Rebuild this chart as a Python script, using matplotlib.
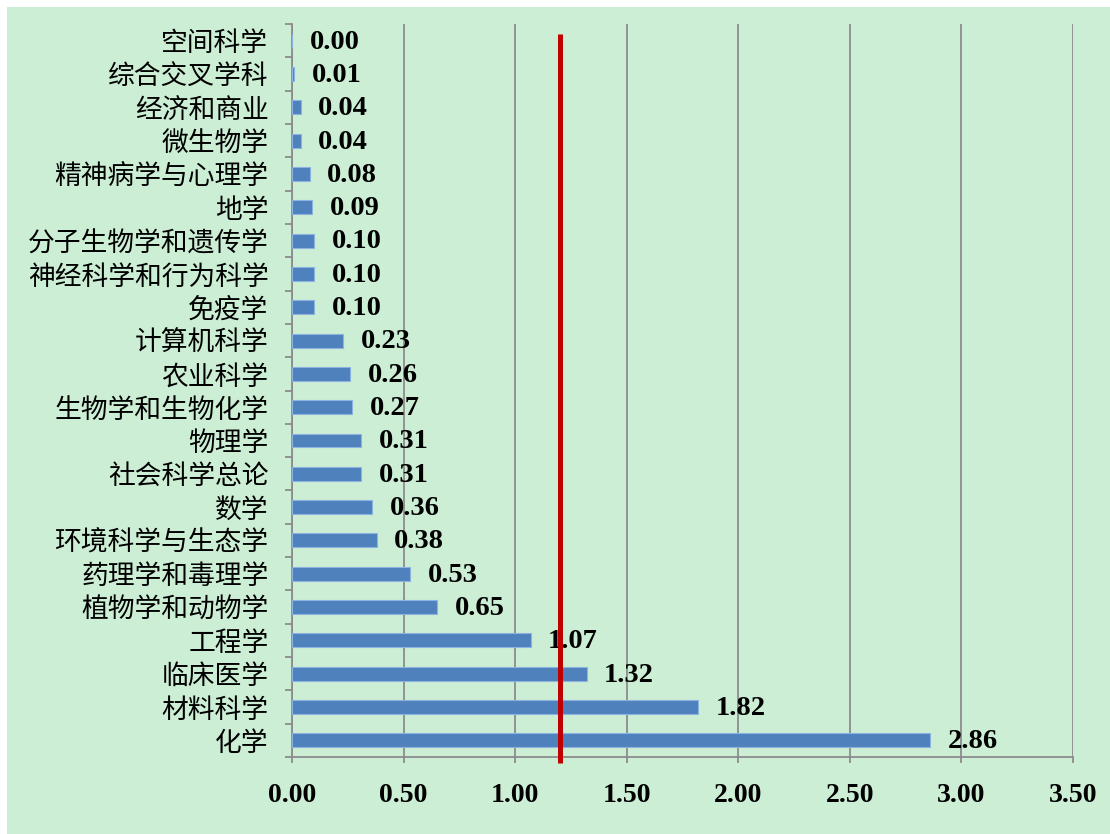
import matplotlib
matplotlib.use("Agg")
import matplotlib.pyplot as plt
from matplotlib.patches import Rectangle
import numpy as np

# categories from bottom to top
categories = ["化学", "材料科学", "临床医学", "工程学", "植物学和动物学", "药理学和毒理学",
              "环境科学与生态学", "数学", "社会科学总论", "物理学", "生物学和生物化学",
              "农业科学", "计算机科学", "免疫学", "神经科学和行为科学", "分子生物学和遗传学",
              "地学", "精神病学与心理学", "微生物学", "经济和商业", "综合交叉学科", "空间科学"]
values = [2.86, 1.82, 1.32, 1.07, 0.65, 0.53, 0.38, 0.36, 0.31, 0.31, 0.27,
          0.26, 0.23, 0.10, 0.10, 0.10, 0.09, 0.08, 0.04, 0.04, 0.01, 0.00]
ref_line = 1.2
xticks = [0.0, 0.5, 1.0, 1.5, 2.0, 2.5, 3.0, 3.5]

bg = "#CCEED5"
bar_color = "#4F81BD"
grey = "#8C8C8C"
num_font = "Liberation Serif"
cjk_font = ["Noto Sans CJK SC", "DejaVu Sans"]

fig = plt.figure(figsize=(11.1, 8.34), dpi=100)
fig.patch.set_facecolor("white")
fig.patches.append(Rectangle((7 / 1110, 0), 1, 1 - 7 / 834, transform=fig.transFigure,
                             facecolor=bg, edgecolor="none", zorder=-10))

ax = fig.add_axes([0.2631, 0.0923, 0.7036, 0.8789])
ax.set_facecolor(bg)
ax.patch.set_alpha(0)

y = np.arange(len(categories))
ax.barh(y, values, height=0.42, color=bar_color, edgecolor="#8DB3E2", linewidth=0.8, zorder=3)

for yi, v in zip(y, values):
    ax.annotate(f"{v:.2f}", xy=(v, yi), xytext=(12.5, -1), textcoords="offset points",
                ha="left", va="center", fontsize=20.5, fontweight="bold",
                family=num_font, color="black", zorder=5)

ax.set_xlim(0, 3.5)
ax.set_ylim(-0.5, len(categories) - 0.5)
ax.set_xticks(xticks)
ax.set_xticklabels([f"{t:.2f}" for t in xticks], fontsize=20, fontweight="bold", family=num_font)
ax.tick_params(axis="x", direction="out", length=4.5, width=1.3, color=grey, pad=14)

ax.set_yticks(y)
ax.set_yticklabels(categories, fontsize=19.3, family=cjk_font, fontweight="medium")
ax.set_yticks(np.arange(-0.5, len(categories)), minor=True)
ax.tick_params(axis="y", which="major", length=0, pad=17)
ax.tick_params(axis="y", which="minor", direction="out", length=5, width=1.3, color=grey)

ax.grid(axis="x", color=grey, linewidth=1.3, zorder=0)
ax.set_axisbelow(True)
for s in ["top", "right"]:
    ax.spines[s].set_visible(False)
for s in ["left", "bottom"]:
    ax.spines[s].set_color(grey)
    ax.spines[s].set_linewidth(1.3)

ax.plot([ref_line, ref_line], [-0.68, len(categories) - 0.8], color="#C00000",
        linewidth=3.6, clip_on=False, zorder=6, solid_capstyle="butt")

fig.savefig("out.png", dpi=100, facecolor=fig.get_facecolor())
